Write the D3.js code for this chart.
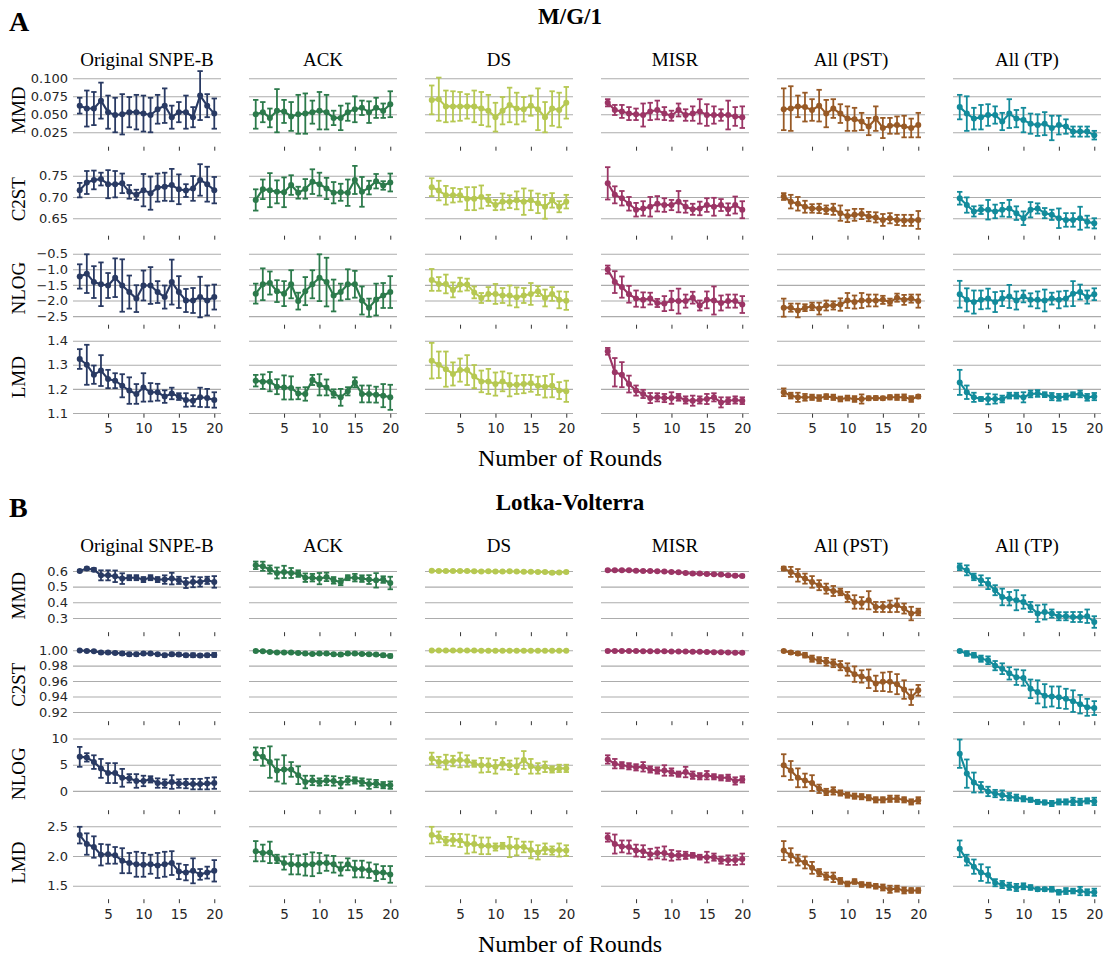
<!DOCTYPE html>
<html>
<head>
<meta charset="utf-8">
<script src="https://cdn.jsdelivr.net/npm/d3@7"></script>
<style>
  body { margin: 0; background: #fff; }
  svg { display: block; }
</style>
</head>
<body>
<svg id="fig" width="1106" height="956"></svg>
<script>
// ---------------- data ----------------
const methods = ["Original SNPE-B", "ACK", "DS", "MISR", "All (PST)", "All (TP)"];
const metrics = ["MMD", "C2ST", "NLOG", "LMD"];
const rounds = [1,2,3,4,5,6,7,8,9,10,11,12,13,14,15,16,17,18,19,20];
const roundTicks = [5, 10, 15, 20];

// M/G/1 : one row of 20 values per method
const mg1MmdMean = [
  [0.062,0.058,0.058,0.069,0.053,0.049,0.050,0.053,0.053,0.051,0.049,0.057,0.062,0.046,0.053,0.053,0.046,0.076,0.062,0.051],
  [0.050,0.053,0.045,0.055,0.054,0.047,0.050,0.051,0.053,0.055,0.053,0.045,0.045,0.053,0.057,0.059,0.053,0.059,0.055,0.064],
  [0.070,0.071,0.061,0.061,0.061,0.061,0.061,0.058,0.055,0.046,0.055,0.063,0.058,0.057,0.062,0.057,0.046,0.058,0.056,0.066],
  [0.066,0.056,0.054,0.051,0.050,0.049,0.054,0.056,0.051,0.048,0.056,0.049,0.051,0.054,0.049,0.049,0.049,0.049,0.047,0.046],
  [0.057,0.058,0.061,0.060,0.056,0.062,0.051,0.058,0.051,0.044,0.043,0.040,0.033,0.044,0.031,0.034,0.035,0.033,0.031,0.035],
  [0.060,0.051,0.044,0.046,0.049,0.049,0.040,0.051,0.044,0.042,0.037,0.035,0.037,0.031,0.035,0.033,0.026,0.026,0.026,0.021]
];
const mg1MmdErr = [
  [0.011,0.025,0.023,0.025,0.023,0.024,0.028,0.021,0.024,0.025,0.024,0.020,0.024,0.016,0.014,0.023,0.014,0.034,0.016,0.021],
  [0.020,0.014,0.013,0.030,0.016,0.020,0.027,0.028,0.016,0.026,0.024,0.010,0.017,0.012,0.018,0.010,0.015,0.014,0.010,0.018],
  [0.020,0.030,0.022,0.021,0.020,0.017,0.022,0.023,0.022,0.020,0.019,0.024,0.022,0.017,0.014,0.029,0.021,0.024,0.024,0.022],
  [0.005,0.007,0.009,0.009,0.008,0.016,0.012,0.013,0.009,0.007,0.009,0.008,0.010,0.017,0.015,0.012,0.008,0.020,0.013,0.015],
  [0.029,0.031,0.015,0.020,0.015,0.022,0.019,0.013,0.013,0.017,0.016,0.012,0.012,0.017,0.014,0.011,0.012,0.015,0.013,0.017],
  [0.017,0.024,0.015,0.017,0.015,0.012,0.012,0.020,0.012,0.017,0.014,0.015,0.016,0.017,0.013,0.010,0.007,0.007,0.007,0.006]
];
const mg1C2stMean = [
  [0.716,0.734,0.740,0.742,0.730,0.730,0.732,0.712,0.705,0.716,0.709,0.722,0.724,0.728,0.718,0.715,0.720,0.740,0.730,0.716],
  [0.693,0.718,0.716,0.712,0.711,0.728,0.710,0.719,0.736,0.730,0.720,0.710,0.711,0.710,0.740,0.712,0.722,0.737,0.727,0.734],
  [0.723,0.715,0.704,0.704,0.704,0.696,0.696,0.700,0.692,0.681,0.689,0.689,0.692,0.689,0.692,0.685,0.677,0.692,0.677,0.689],
  [0.732,0.705,0.697,0.684,0.670,0.673,0.677,0.684,0.681,0.681,0.689,0.677,0.671,0.673,0.681,0.677,0.681,0.671,0.681,0.670],
  [0.701,0.689,0.684,0.677,0.673,0.673,0.670,0.671,0.662,0.655,0.658,0.660,0.654,0.652,0.646,0.650,0.646,0.645,0.645,0.646],
  [0.697,0.681,0.666,0.670,0.670,0.666,0.670,0.673,0.662,0.650,0.670,0.673,0.662,0.658,0.650,0.646,0.646,0.650,0.642,0.638]
];
const mg1C2stErr = [
  [0.017,0.027,0.022,0.015,0.033,0.031,0.023,0.016,0.012,0.038,0.039,0.033,0.033,0.038,0.035,0.015,0.029,0.037,0.041,0.031],
  [0.025,0.023,0.040,0.027,0.035,0.023,0.014,0.023,0.029,0.027,0.025,0.025,0.020,0.031,0.033,0.035,0.016,0.017,0.010,0.021],
  [0.021,0.023,0.022,0.017,0.015,0.027,0.027,0.027,0.013,0.012,0.019,0.015,0.021,0.031,0.023,0.023,0.028,0.017,0.013,0.016],
  [0.038,0.020,0.017,0.016,0.016,0.017,0.023,0.018,0.016,0.012,0.025,0.014,0.013,0.016,0.016,0.021,0.014,0.014,0.020,0.020],
  [0.008,0.016,0.016,0.014,0.010,0.011,0.010,0.013,0.018,0.014,0.014,0.012,0.011,0.012,0.014,0.012,0.012,0.013,0.013,0.021],
  [0.015,0.018,0.012,0.010,0.023,0.016,0.016,0.020,0.016,0.016,0.018,0.012,0.012,0.012,0.023,0.016,0.016,0.027,0.014,0.012]
];
const mg1NlogMean = [
  [-1.23,-1.14,-1.41,-1.48,-1.52,-1.27,-1.52,-1.73,-1.94,-1.52,-1.52,-1.73,-1.89,-1.41,-1.73,-2.00,-2.00,-1.89,-2.00,-1.89],
  [-1.78,-1.48,-1.44,-1.70,-1.78,-1.48,-2.02,-1.70,-1.48,-1.27,-1.41,-1.84,-1.73,-1.48,-1.48,-2.00,-2.23,-1.97,-1.84,-1.73],
  [-1.34,-1.47,-1.47,-1.66,-1.49,-1.49,-1.74,-1.92,-1.79,-1.79,-1.84,-1.84,-1.90,-1.84,-1.79,-1.70,-1.92,-1.79,-1.98,-2.01],
  [-1.01,-1.41,-1.57,-1.80,-1.94,-1.98,-1.94,-2.08,-2.10,-2.00,-2.02,-2.02,-1.91,-2.16,-1.98,-2.00,-2.08,-2.02,-2.02,-2.13],
  [-2.23,-2.23,-2.32,-2.23,-2.19,-2.26,-2.16,-2.16,-2.13,-2.00,-2.05,-2.00,-2.00,-2.00,-1.98,-2.05,-1.91,-1.98,-1.94,-2.02],
  [-1.80,-1.98,-2.05,-1.98,-1.94,-2.05,-1.94,-1.87,-2.00,-1.87,-1.98,-1.98,-2.00,-1.94,-1.98,-1.94,-1.78,-1.73,-1.89,-1.80]
];
const mg1NlogErr = [
  [0.39,0.62,0.51,0.70,0.40,0.62,0.84,0.53,0.43,0.48,0.59,0.35,0.37,0.72,0.51,0.37,0.40,0.65,0.48,0.40],
  [0.32,0.51,0.37,0.35,0.40,0.45,0.27,0.45,0.45,0.75,0.78,0.51,0.27,0.48,0.43,0.45,0.29,0.51,0.40,0.51],
  [0.35,0.22,0.30,0.24,0.22,0.19,0.19,0.16,0.22,0.32,0.24,0.32,0.32,0.24,0.35,0.16,0.27,0.22,0.27,0.29],
  [0.13,0.35,0.34,0.27,0.26,0.24,0.19,0.13,0.24,0.31,0.40,0.21,0.19,0.16,0.27,0.45,0.24,0.21,0.21,0.27],
  [0.29,0.13,0.22,0.11,0.12,0.19,0.16,0.13,0.20,0.24,0.21,0.24,0.19,0.19,0.13,0.11,0.13,0.16,0.13,0.21],
  [0.43,0.37,0.37,0.30,0.32,0.32,0.24,0.37,0.29,0.19,0.21,0.27,0.35,0.19,0.27,0.25,0.40,0.24,0.21,0.19]
];
const mg1LmdMean = [
  [1.324,1.300,1.259,1.276,1.241,1.234,1.213,1.193,1.179,1.206,1.186,1.186,1.168,1.181,1.168,1.154,1.151,1.165,1.162,1.154],
  [1.234,1.230,1.230,1.209,1.206,1.204,1.181,1.179,1.237,1.217,1.206,1.181,1.165,1.190,1.227,1.179,1.179,1.176,1.172,1.165],
  [1.317,1.300,1.282,1.262,1.278,1.278,1.251,1.231,1.231,1.220,1.231,1.217,1.217,1.220,1.223,1.213,1.209,1.213,1.193,1.190],
  [1.356,1.269,1.259,1.220,1.193,1.179,1.162,1.165,1.162,1.162,1.165,1.154,1.151,1.154,1.158,1.165,1.144,1.151,1.154,1.151],
  [1.186,1.172,1.165,1.165,1.165,1.162,1.168,1.165,1.158,1.162,1.158,1.158,1.161,1.162,1.161,1.165,1.165,1.165,1.158,1.168],
  [1.227,1.186,1.165,1.158,1.158,1.158,1.158,1.172,1.172,1.165,1.179,1.181,1.176,1.168,1.165,1.168,1.176,1.179,1.165,1.168]
];
const mg1LmdErr = [
  [0.041,0.083,0.038,0.064,0.038,0.031,0.048,0.055,0.041,0.059,0.038,0.035,0.026,0.024,0.014,0.028,0.023,0.040,0.038,0.032],
  [0.024,0.030,0.040,0.031,0.050,0.048,0.024,0.028,0.021,0.044,0.033,0.017,0.035,0.017,0.021,0.035,0.035,0.033,0.048,0.052],
  [0.074,0.055,0.073,0.048,0.048,0.062,0.048,0.045,0.052,0.048,0.041,0.048,0.038,0.038,0.035,0.038,0.045,0.048,0.035,0.044],
  [0.014,0.059,0.052,0.035,0.021,0.017,0.021,0.017,0.017,0.024,0.014,0.015,0.021,0.015,0.021,0.017,0.021,0.014,0.015,0.014],
  [0.016,0.012,0.019,0.014,0.011,0.012,0.010,0.011,0.010,0.010,0.012,0.019,0.008,0.008,0.007,0.009,0.011,0.012,0.012,0.007],
  [0.052,0.028,0.019,0.008,0.022,0.019,0.014,0.012,0.012,0.021,0.014,0.014,0.010,0.015,0.014,0.012,0.010,0.014,0.014,0.015]
];

// Lotka-Volterra
const lvMmdMean = [
  [0.600,0.615,0.608,0.572,0.572,0.566,0.551,0.557,0.557,0.545,0.557,0.545,0.545,0.551,0.540,0.523,0.530,0.530,0.540,0.530],
  [0.636,0.630,0.609,0.587,0.594,0.587,0.583,0.557,0.557,0.551,0.562,0.540,0.530,0.557,0.557,0.551,0.545,0.540,0.545,0.523],
  [0.601,0.600,0.599,0.600,0.600,0.599,0.598,0.597,0.598,0.597,0.596,0.598,0.596,0.595,0.595,0.594,0.594,0.588,0.590,0.593],
  [0.604,0.604,0.604,0.604,0.602,0.600,0.600,0.598,0.596,0.594,0.591,0.587,0.583,0.583,0.581,0.579,0.577,0.572,0.570,0.568],
  [0.615,0.594,0.572,0.551,0.530,0.509,0.487,0.472,0.466,0.434,0.402,0.396,0.413,0.370,0.370,0.374,0.381,0.360,0.328,0.338],
  [0.626,0.604,0.562,0.540,0.519,0.477,0.434,0.423,0.413,0.402,0.370,0.328,0.338,0.328,0.311,0.311,0.306,0.306,0.311,0.274]
];
const lvMmdErr = [
  [0.005,0.008,0.010,0.032,0.032,0.037,0.034,0.016,0.016,0.016,0.016,0.016,0.027,0.037,0.023,0.032,0.034,0.030,0.023,0.037],
  [0.024,0.029,0.026,0.035,0.039,0.032,0.021,0.027,0.024,0.036,0.027,0.021,0.021,0.016,0.024,0.021,0.028,0.046,0.021,0.040],
  [0.005,0.005,0.005,0.005,0.005,0.005,0.005,0.005,0.005,0.005,0.005,0.005,0.005,0.005,0.005,0.005,0.005,0.008,0.006,0.005],
  [0.005,0.005,0.005,0.005,0.005,0.005,0.005,0.005,0.005,0.005,0.006,0.006,0.006,0.006,0.006,0.006,0.007,0.007,0.008,0.008],
  [0.012,0.032,0.040,0.032,0.037,0.032,0.032,0.032,0.021,0.032,0.043,0.037,0.058,0.032,0.032,0.037,0.043,0.032,0.043,0.021],
  [0.021,0.032,0.021,0.032,0.035,0.032,0.053,0.043,0.064,0.043,0.032,0.053,0.048,0.026,0.026,0.026,0.032,0.032,0.043,0.037]
];
const lvC2stMean = [
  [0.9996,0.9991,0.9987,0.9970,0.9970,0.9965,0.9957,0.9948,0.9948,0.9957,0.9957,0.9948,0.9935,0.9948,0.9943,0.9935,0.9935,0.9930,0.9935,0.9939],
  [0.9991,0.9987,0.9978,0.9970,0.9970,0.9970,0.9965,0.9957,0.9952,0.9957,0.9957,0.9948,0.9943,0.9957,0.9957,0.9952,0.9948,0.9943,0.9935,0.9926],
  [0.9996,0.9996,0.9995,0.9995,0.9995,0.9995,0.9995,0.9994,0.9994,0.9994,0.9994,0.9994,0.9994,0.9994,0.9994,0.9993,0.9993,0.9993,0.9993,0.9993],
  [0.9991,0.9991,0.9990,0.9990,0.9989,0.9988,0.9987,0.9986,0.9985,0.9984,0.9983,0.9982,0.9980,0.9979,0.9977,0.9975,0.9973,0.9971,0.9968,0.9966],
  [0.9990,0.9970,0.9957,0.9935,0.9890,0.9870,0.9850,0.9830,0.9800,0.9750,0.9690,0.9660,0.9630,0.9570,0.9590,0.9590,0.9560,0.9490,0.9390,0.9480],
  [0.9990,0.9957,0.9935,0.9890,0.9870,0.9800,0.9760,0.9700,0.9650,0.9640,0.9500,0.9460,0.9410,0.9400,0.9390,0.9370,0.9340,0.9300,0.9260,0.9250]
];
const lvC2stErr = [
  [0.0008,0.0010,0.0010,0.0015,0.0015,0.0015,0.0020,0.0020,0.0020,0.0015,0.0015,0.0015,0.0020,0.0020,0.0020,0.0020,0.0025,0.0020,0.0020,0.0025],
  [0.0008,0.0010,0.0010,0.0010,0.0010,0.0010,0.0012,0.0015,0.0015,0.0015,0.0015,0.0015,0.0020,0.0015,0.0015,0.0015,0.0015,0.0015,0.0020,0.0020],
  [0.0004,0.0004,0.0004,0.0004,0.0004,0.0004,0.0004,0.0004,0.0004,0.0004,0.0004,0.0004,0.0004,0.0004,0.0004,0.0004,0.0004,0.0004,0.0004,0.0004],
  [0.0006,0.0006,0.0006,0.0006,0.0006,0.0006,0.0006,0.0006,0.0007,0.0007,0.0007,0.0007,0.0007,0.0008,0.0008,0.0008,0.0008,0.0009,0.0009,0.0009],
  [0.001,0.002,0.002,0.003,0.004,0.004,0.005,0.005,0.006,0.008,0.010,0.008,0.012,0.010,0.012,0.013,0.013,0.012,0.010,0.007],
  [0.001,0.003,0.003,0.004,0.005,0.006,0.007,0.008,0.010,0.010,0.012,0.015,0.015,0.013,0.014,0.013,0.014,0.012,0.011,0.009]
];
const lvNlogMean = [
  [6.5,6.4,5.5,4.3,3.4,3.4,2.5,2.4,1.9,1.9,2.2,1.5,1.4,1.7,1.4,1.4,1.3,1.3,1.4,1.5],
  [7.1,6.5,5.5,3.9,4.1,4.1,3.0,1.7,2.0,1.7,2.0,1.9,1.5,2.0,2.0,1.7,1.3,1.4,1.1,1.1],
  [6.2,5.5,5.5,5.7,5.9,5.7,5.2,4.9,4.9,4.6,5.2,4.9,4.7,5.9,4.7,4.3,4.6,4.1,4.3,4.3],
  [6.0,5.2,4.9,4.7,4.5,4.6,4.1,3.9,3.9,3.6,3.2,3.6,3.0,2.8,3.0,2.7,2.5,2.5,1.9,2.2],
  [4.9,3.9,2.5,2.0,1.5,0.4,-0.2,0.0,-0.4,-0.8,-1.0,-1.1,-1.3,-1.7,-1.7,-1.5,-1.5,-1.7,-2.1,-1.8],
  [7.1,3.3,1.6,0.7,-0.1,-0.5,-0.8,-1.1,-1.3,-1.5,-1.7,-2.1,-2.2,-2.4,-2.1,-2.1,-2.0,-2.1,-1.9,-2.0]
];
const lvNlogErr = [
  [1.9,0.8,1.3,1.8,1.9,1.9,1.7,0.8,1.3,1.0,0.6,0.9,0.8,1.3,0.8,0.9,1.0,1.0,1.1,1.1],
  [1.2,1.7,3.0,2.1,2.7,1.4,1.7,1.2,0.9,0.7,0.9,0.9,1.0,0.8,0.6,0.7,0.9,0.7,0.6,0.7],
  [1.1,1.0,1.4,1.0,1.4,1.1,0.6,1.4,1.3,1.3,1.1,0.9,1.5,1.7,1.4,1.0,1.0,0.6,0.7,0.7],
  [0.8,0.9,0.6,0.6,0.6,0.9,0.6,0.6,1.0,0.7,0.5,1.0,0.7,0.6,0.8,0.5,0.5,0.6,0.7,0.6],
  [2.1,1.8,1.8,1.3,1.5,0.8,0.6,0.7,0.5,0.5,0.5,0.5,0.5,0.5,0.5,0.6,0.6,0.5,0.5,0.6],
  [2.7,2.7,1.9,1.0,0.9,0.7,0.9,0.7,0.6,0.5,0.4,0.4,0.4,0.5,0.5,0.5,0.7,0.6,0.5,0.7]
];
const lvLmdMean = [
  [2.35,2.20,2.15,2.02,2.03,2.01,1.92,1.88,1.86,1.85,1.86,1.84,1.86,1.88,1.74,1.72,1.75,1.69,1.72,1.75],
  [2.08,2.05,2.06,1.95,1.88,1.86,1.85,1.85,1.86,1.88,1.88,1.86,1.78,1.86,1.78,1.78,1.76,1.72,1.72,1.69],
  [2.35,2.32,2.25,2.27,2.26,2.20,2.20,2.17,2.17,2.15,2.17,2.15,2.15,2.15,2.10,2.06,2.12,2.09,2.10,2.09],
  [2.31,2.20,2.16,2.15,2.09,2.08,2.03,2.05,2.05,2.01,2.01,2.01,2.01,1.98,1.98,1.98,1.93,1.93,1.93,1.95],
  [2.09,2.01,1.93,1.89,1.80,1.72,1.66,1.64,1.58,1.53,1.57,1.52,1.51,1.49,1.47,1.44,1.45,1.42,1.42,1.42],
  [2.12,1.93,1.82,1.72,1.68,1.55,1.52,1.49,1.47,1.49,1.47,1.44,1.44,1.44,1.39,1.41,1.41,1.41,1.39,1.39]
];
const lvLmdErr = [
  [0.14,0.18,0.18,0.18,0.16,0.14,0.21,0.17,0.21,0.20,0.16,0.21,0.21,0.20,0.13,0.13,0.21,0.09,0.10,0.18],
  [0.17,0.14,0.18,0.07,0.11,0.17,0.16,0.18,0.20,0.17,0.13,0.14,0.11,0.10,0.14,0.14,0.13,0.14,0.11,0.14],
  [0.14,0.09,0.07,0.10,0.11,0.16,0.14,0.14,0.14,0.06,0.05,0.17,0.14,0.09,0.14,0.12,0.09,0.07,0.11,0.09],
  [0.07,0.16,0.10,0.11,0.10,0.10,0.09,0.09,0.11,0.09,0.07,0.06,0.04,0.04,0.09,0.06,0.06,0.08,0.08,0.09],
  [0.16,0.12,0.09,0.10,0.10,0.06,0.06,0.08,0.05,0.04,0.04,0.04,0.04,0.04,0.05,0.06,0.05,0.05,0.04,0.04],
  [0.14,0.09,0.12,0.14,0.13,0.06,0.06,0.06,0.06,0.05,0.04,0.03,0.03,0.04,0.04,0.05,0.04,0.07,0.05,0.06]
];

// y tick values per row
const mg1YTicks = [[0.025, 0.05, 0.075, 0.1], [0.65, 0.70, 0.75], [-2.5, -2.0, -1.5, -1.0, -0.5], [1.1, 1.2, 1.3, 1.4]];
const lvYTicks = [[0.3, 0.4, 0.5, 0.6], [0.92, 0.94, 0.96, 0.98, 1.00], [0, 5, 10], [1.5, 2.0, 2.5]];

// ---------------- layout / style ----------------
const colors = ["#293a63", "#2c7a4b", "#b6c852", "#9b3565", "#985a26", "#138b9b"];
const serif = "'Liberation Serif', 'Times New Roman', serif";
const sans = "'DejaVu Sans', sans-serif";

const colX0 = 73, colStep = 176, colW = 148;
const rowY0 = 73.7, rowStep = 89, rowH = 73;
const panelShift = 485.5;
const xDomain = [0.05, 20.95];

const panels = [
  { letter: "A", title: "M/G/1", shift: 0,
    means: [mg1MmdMean, mg1C2stMean, mg1NlogMean, mg1LmdMean],
    errs: [mg1MmdErr, mg1C2stErr, mg1NlogErr, mg1LmdErr],
    ticks: mg1YTicks,
    domains: [[0.005, 0.1064], [0.609, 0.7805], [-2.776, -0.436], [1.097, 1.40]],
    formats: [".3f", ".2f", ".1f", ".1f"] },
  { letter: "B", title: "Lotka-Volterra", shift: panelShift,
    means: [lvMmdMean, lvC2stMean, lvNlogMean, lvLmdMean],
    errs: [lvMmdErr, lvC2stErr, lvNlogErr, lvLmdErr],
    ticks: lvYTicks,
    domains: [[0.209, 0.675], [0.908, 1.0026], [-3.68, 10.25], [1.273, 2.50]],
    formats: [".1f", ".2f", "d", ".1f"] }
];

const svg = d3.select("#fig");
svg.append("rect").attr("width", 1106).attr("height", 956).attr("fill", "#fff");

panels.forEach(function(p) {
  const pg = svg.append("g").attr("transform", "translate(0," + p.shift + ")");

  // panel letter and title
  pg.append("text")
    .attr("x", 9).attr("y", 31)
    .style("font-family", serif).style("font-weight", "bold").style("font-size", "28px")
    .text(p.letter);
  pg.append("text")
    .attr("x", 570).attr("y", 24).attr("text-anchor", "middle")
    .style("font-family", serif).style("font-weight", "bold").style("font-size", "23px")
    .text(p.title);

  // column titles
  methods.forEach(function(m, ci) {
    pg.append("text")
      .attr("x", colX0 + ci * colStep + colW / 2).attr("y", 66)
      .attr("text-anchor", "middle")
      .style("font-family", serif).style("font-size", "19px")
      .text(m);
  });

  // x axis label
  pg.append("text")
    .attr("x", 570).attr("y", 466).attr("text-anchor", "middle")
    .style("font-family", serif).style("font-size", "24px")
    .text("Number of Rounds");

  metrics.forEach(function(metric, ri) {
    const top = rowY0 + ri * rowStep;
    const y = d3.scaleLinear().domain(p.domains[ri]).range([top + rowH, top]);
    const isLast = ri === metrics.length - 1;

    // row label
    pg.append("text")
      .attr("transform", "translate(25," + (top + rowH / 2) + ") rotate(-90)")
      .attr("text-anchor", "middle")
      .style("font-family", serif).style("font-size", "19px")
      .text(metric);

    methods.forEach(function(m, ci) {
      const left = colX0 + ci * colStep;
      const x = d3.scaleLinear().domain(xDomain).range([left, left + colW]);
      const g = pg.append("g");

      // horizontal grid
      const grid = g.append("g")
        .attr("transform", "translate(" + left + ",0)")
        .call(d3.axisRight(y).tickValues(p.ticks[ri]).tickSize(colW).tickFormat(""));
      grid.select(".domain").remove();
      grid.selectAll("line").attr("stroke", "#acacac").attr("stroke-width", 1.1);

      // y tick labels on first column only
      if (ci === 0) {
        const ya = g.append("g")
          .attr("transform", "translate(" + left + ",0)")
          .call(d3.axisLeft(y).tickValues(p.ticks[ri]).tickSize(0).tickPadding(5)
                 .tickFormat(d3.format(p.formats[ri])));
        ya.select(".domain").remove();
        ya.selectAll("text")
          .style("font-family", sans).style("font-size", "13px").attr("fill", "#262626");
      }

      // x ticks
      const xa = g.append("g")
        .attr("transform", "translate(0," + (top + rowH) + ")")
        .call(d3.axisBottom(x).tickValues(roundTicks).tickSize(4).tickPadding(6)
               .tickFormat(isLast ? d3.format("d") : ""));
      xa.select(".domain").remove();
      xa.selectAll("line").attr("stroke", "#333").attr("stroke-width", 1);
      xa.selectAll("text")
        .style("font-family", sans).style("font-size", "13.5px").attr("fill", "#262626");

      // series
      const mean = p.means[ri][ci];
      const err = p.errs[ri][ci];
      const pts = rounds.map(function(r, i) { return { r: r, m: mean[i], e: err[i] }; });
      const col = colors[ci];

      const eb = g.append("g").attr("stroke", col).attr("stroke-width", 1.8).attr("fill", "none");
      eb.selectAll("line.v").data(pts).enter().append("line")
        .attr("x1", d => x(d.r)).attr("x2", d => x(d.r))
        .attr("y1", d => y(d.m - d.e)).attr("y2", d => y(d.m + d.e));
      eb.selectAll("line.t").data(pts).enter().append("line")
        .attr("x1", d => x(d.r) - 2.7).attr("x2", d => x(d.r) + 2.7)
        .attr("y1", d => y(d.m + d.e)).attr("y2", d => y(d.m + d.e));
      eb.selectAll("line.b").data(pts).enter().append("line")
        .attr("x1", d => x(d.r) - 2.7).attr("x2", d => x(d.r) + 2.7)
        .attr("y1", d => y(d.m - d.e)).attr("y2", d => y(d.m - d.e));

      g.append("path")
        .datum(pts)
        .attr("fill", "none").attr("stroke", col).attr("stroke-width", 2.1)
        .attr("stroke-linejoin", "round")
        .attr("d", d3.line().x(d => x(d.r)).y(d => y(d.m)));

      g.selectAll("circle").data(pts).enter().append("circle")
        .attr("cx", d => x(d.r)).attr("cy", d => y(d.m)).attr("r", 3)
        .attr("fill", col);
    });
  });
});
</script>
</body>
</html>
